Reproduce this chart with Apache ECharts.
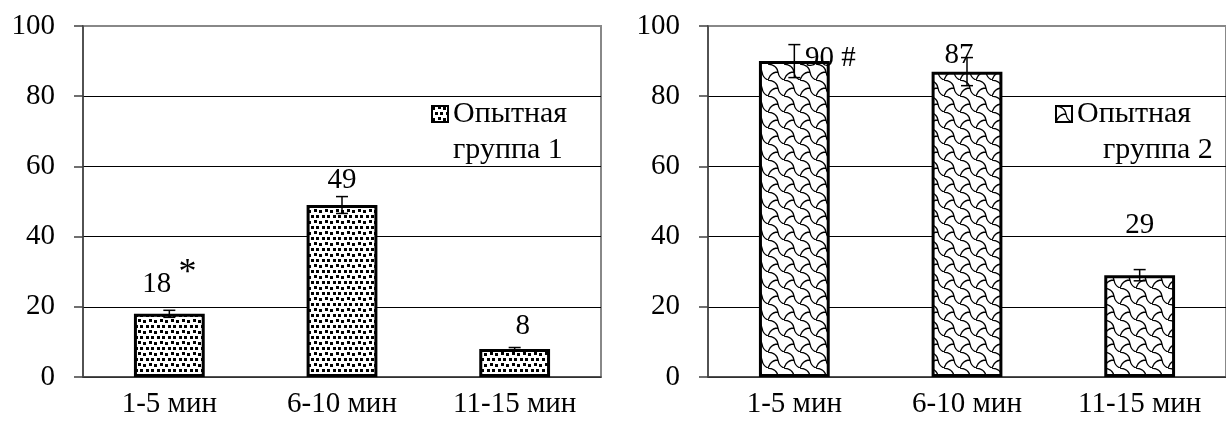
<!DOCTYPE html>
<html>
<head>
<meta charset="utf-8">
<script src="https://cdn.jsdelivr.net/npm/echarts@6/dist/echarts.min.js"></script>
<style>
  html, body { margin: 0; padding: 0; background: #fff; }
  #chart { width: 1226px; height: 428px; }
</style>
</head>
<body>
<div id="chart"></div>
<script>
// data
const categories = ["1-5 мин", "6-10 мин", "11-15 мин"];
const yTicks = [0, 20, 40, 60, 80, 100];
const group1Name = "Опытная группа 1";
const group2Name = "Опытная группа 2";
const group1Values = [18, 49, 8];
const group1Errors = [1, 2.4, 0.4];
const group1Marks = ["*", "", ""];
const group2Values = [90, 87, 29];
const group2Errors = [4.7, 4, 1.6];
const group2Marks = ["#", "", ""];

const FONT = "Liberation Serif";

// fill patterns
function confetti() {
  const c = document.createElement("canvas");
  c.width = 11; c.height = 11;
  const ctx = c.getContext("2d");
  ctx.fillStyle = "#fff";
  ctx.fillRect(0, 0, 11, 11);
  ctx.fillStyle = "#000";
  [[0, 1], [6, 0], [3, 6], [8, 6]].forEach(p => ctx.fillRect(p[0], p[1], 3, 3));
  return c;
}
function shingle() {
  const c = document.createElement("canvas");
  c.width = 16; c.height = 16;
  const ctx = c.getContext("2d");
  ctx.fillStyle = "#fff";
  ctx.fillRect(0, 0, 16, 16);
  ctx.strokeStyle = "#000";
  ctx.lineWidth = 1.3;
  ctx.beginPath();
  ctx.moveTo(0, 0);
  ctx.quadraticCurveTo(9, 1, 10, 8);
  ctx.quadraticCurveTo(11, 14, 16, 16);
  ctx.moveTo(10, 8);
  ctx.quadraticCurveTo(5, 8, 2, 12);
  ctx.lineTo(0, 16);
  ctx.stroke();
  return c;
}
const fill1 = { image: confetti(), repeat: "repeat" };
const fill2 = { image: shingle(), repeat: "repeat" };

// label offsets tuned to the picture
const labelOffset1 = [[0, 5], [0, -5], [8, -3]];
const labelOffset2 = [[36, 17], [-8, 3], [0, -30]];

function barData(values, marks, offsets) {
  return values.map((v, i) => ({
    value: v,
    label: {
      offset: offsets[i],
      formatter: marks[i] === "*" ? v + " {s|*}" : (marks[i] ? v + " " + marks[i] : String(v))
    }
  }));
}

function errorData(values, errors) {
  return values.map((v, i) => [i, v, errors[i]]);
}

function renderError(params, api) {
  const i = api.value(0), v = api.value(1), e = api.value(2);
  const hi = api.coord([i, v + e]);
  const lo = api.coord([i, v - e]);
  const w = 6;
  const style = { stroke: "#000", lineWidth: 1.5 };
  return {
    type: "group",
    children: [
      { type: "line", shape: { x1: hi[0], y1: hi[1], x2: lo[0], y2: lo[1] }, style },
      { type: "line", shape: { x1: hi[0] - w, y1: hi[1], x2: hi[0] + w, y2: hi[1] }, style },
      { type: "line", shape: { x1: lo[0] - w, y1: lo[1], x2: lo[0] + w, y2: lo[1] }, style }
    ]
  };
}

function xAxis(gridIndex) {
  return {
    type: "category",
    gridIndex,
    data: categories,
    axisLine: { lineStyle: { color: "#404040", width: 1.5 } },
    axisTick: { length: 9, lineStyle: { color: "#404040", width: 1.5 } },
    axisLabel: { color: "#000", fontFamily: FONT, fontSize: 29, margin: 13, interval: 0 }
  };
}
function yAxis(gridIndex) {
  return {
    type: "value",
    gridIndex,
    min: yTicks[0],
    max: yTicks[yTicks.length - 1],
    interval: yTicks[1] - yTicks[0],
    axisLine: { show: true, lineStyle: { color: "#404040", width: 1.5 } },
    axisTick: { show: true, length: 9, lineStyle: { color: "#404040", width: 1.5 } },
    axisLabel: { color: "#000", fontFamily: FONT, fontSize: 29, margin: 28 },
    splitLine: {
      lineStyle: { color: ["#000", "#000", "#000", "#000", "#000", "#888"], width: 1 }
    }
  };
}

function barSeries(name, idx, values, marks, offsets, fill) {
  return {
    name,
    type: "bar",
    xAxisIndex: idx,
    yAxisIndex: idx,
    barWidth: "41%",
    data: barData(values, marks, offsets),
    itemStyle: { color: fill, borderColor: "#000", borderWidth: 3 },
    label: {
      show: true,
      position: "top",
      distance: 5,
      color: "#000",
      fontFamily: FONT,
      fontSize: 29,
      rich: {
        s: { fontFamily: FONT, fontSize: 36, color: "#000", padding: [0, 0, 22, 0] }
      }
    },
    z: 2
  };
}

function legend(name, left, pad) {
  const words = name.split(" ");
  return {
    data: [name],
    left,
    top: 94,
    itemWidth: 16,
    itemHeight: 16,
    itemGap: 0,
    selectedMode: false,
    icon: "rect",
    formatter: () => "{a|" + words[0] + "}\n{b|" + words[1] + " " + words[2] + "}",
    textStyle: {
      color: "#000",
      fontFamily: FONT,
      fontSize: 30,
      padding: [36, 0, 0, 0],
      rich: {
        a: { fontFamily: FONT, fontSize: 30, color: "#000", lineHeight: 36 },
        b: { fontFamily: FONT, fontSize: 30, color: "#000", lineHeight: 36, padding: [0, 0, 0, pad] }
      }
    }
  };
}

const chart = echarts.init(document.getElementById("chart"));
chart.setOption({
  animation: false,
  textStyle: { fontFamily: FONT },
  grid: [
    { left: 83, top: 26, width: 518, height: 351, show: true, borderColor: "#888", borderWidth: 2 },
    { left: 708, top: 26, width: 525, height: 351, show: true, borderColor: "#888", borderWidth: 2 }
  ],
  legend: [legend(group1Name, 426, 0), legend(group2Name, 1050, 26)],
  xAxis: [xAxis(0), xAxis(1)],
  yAxis: [yAxis(0), yAxis(1)],
  series: [
    barSeries(group1Name, 0, group1Values, group1Marks, labelOffset1, fill1),
    barSeries(group2Name, 1, group2Values, group2Marks, labelOffset2, fill2),
    {
      type: "custom",
      xAxisIndex: 0,
      yAxisIndex: 0,
      renderItem: renderError,
      data: errorData(group1Values, group1Errors),
      encode: { x: 0, y: 1 },
      z: 3
    },
    {
      type: "custom",
      xAxisIndex: 1,
      yAxisIndex: 1,
      renderItem: renderError,
      data: errorData(group2Values, group2Errors),
      encode: { x: 0, y: 1 },
      z: 3
    }
  ]
});
</script>
</body>
</html>
